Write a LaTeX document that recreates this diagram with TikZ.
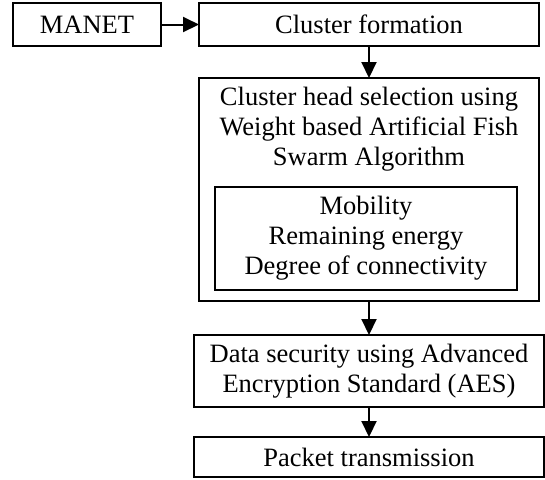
\documentclass[tikz,border=0pt]{standalone}
\usepackage{fontspec}
\setmainfont{Liberation Serif}
\usepackage{tikz}
\usetikzlibrary{arrows.meta,positioning}
\tikzset{
  %Define standard arrow tip
  >={Triangle[length=8pt,width=7.5pt]},
  %Define style for boxes
  kasten/.style={
    rectangle,
    draw=black, line width=1pt,
    inner sep=0pt, outer sep=0pt,
    align=center,
    font=\fontsize{13.25pt}{15pt}\selectfont},
  % Define style for plain text
  txt/.style={
    inner sep=0pt,
    align=center,
    font=\fontsize{13.25pt}{15pt}\selectfont},
  % Define arrow style
  pfeil/.style={
    ->,
    line width=1pt}
}

\begin{document}
\begin{tikzpicture}
  \useasboundingbox (0,0) rectangle (272.5pt,-239.5pt);
  \node[kasten, minimum width=74pt, minimum height=21.5pt] (manet) at (43.5pt,-12.25pt) {MANET};
  \node[kasten, minimum width=170pt, minimum height=21.5pt, right=19pt of manet] (form) {Cluster formation};
  \node[kasten, minimum width=170pt, minimum height=111.5pt, below=16pt of form] (chs) {};
  \node[txt, below=4.5pt of chs.north] (chstxt) {Cluster head selection using\\Weight based Artificial Fish\\Swarm Algorithm};
  \node[kasten, minimum width=151pt, minimum height=51.5pt, above=5.5pt of chs.south, xshift=-1.5pt] (param) {Mobility\\Remaining energy\\Degree of connectivity};
  \node[kasten, minimum width=175pt, minimum height=36pt, below=17pt of chs] (aes) {Data security using Advanced\\Encryption Standard (AES)};
  \node[kasten, minimum width=175pt, minimum height=20pt, below=15pt of aes] (packet) {Packet transmission};
  \draw[pfeil] (manet) -- (form);
  \draw[pfeil] (form) -- (chs);
  \draw[pfeil] (chs) -- (aes);
  \draw[pfeil] (aes) -- (packet);
\end{tikzpicture}
\end{document}
